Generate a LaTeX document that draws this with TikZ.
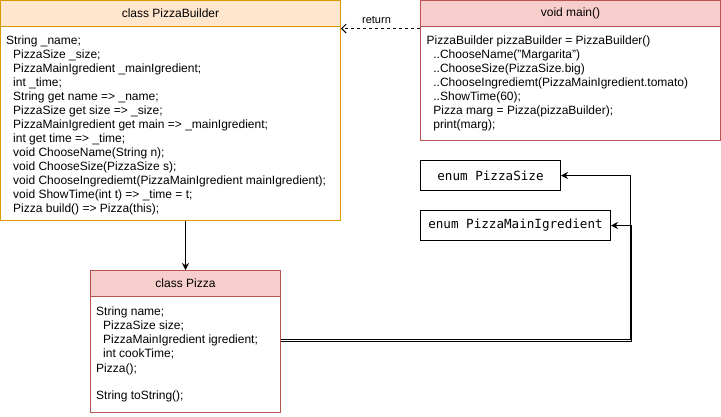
\documentclass[tikz,border=0pt]{standalone}
\usepackage{fontspec}
\setmainfont{Liberation Sans}
\newfontfamily\monof{DejaVu Sans Mono}
\usetikzlibrary{arrows.meta}
\definecolor{orfill}{HTML}{FFE6CC}
\definecolor{orline}{HTML}{D79B00}
\definecolor{rdfill}{HTML}{F8CECC}
\definecolor{rdline}{HTML}{B85450}
\begin{document}
\begin{tikzpicture}[x=1pt,y=-1pt,
  box/.style={draw, rectangle, inner sep=0pt, fill=white, line width=1pt},
  hdr/.style={draw, rectangle, inner sep=0pt, line width=1pt, anchor=north west, minimum height=26pt, font=\fontsize{12}{14}\selectfont},
  txt/.style={anchor=north west, inner sep=0pt, align=left, font=\fontsize{12}{14}\selectfont},
  line1/.style={anchor=base west, inner sep=0pt, font=\fontsize{12}{14}\selectfont},
  enumbox/.style={draw, rectangle, inner sep=0pt, fill=white, line width=1pt, font=\monof\fontsize{12.6}{14}\selectfont},
  conn/.style={line width=1pt, -{Stealth[length=7pt,width=7pt]}},
  retconn/.style={line width=1pt, dash pattern=on 3pt off 3pt, -{Straight Barb[length=4.5pt,width=9pt]}}
]
\useasboundingbox (0,0) rectangle (721,416);

% PizzaBuilder
\node[box, draw=orline, minimum width=340pt, minimum height=220pt] (pb) at (170.5,110.5) {};
\node[hdr, draw=orline, fill=orfill, minimum width=340pt] (pbh) at (pb.north west) {class PizzaBuilder};
\node[txt] (pbt) at (6,34) {\strut String \_name;\\
\hspace*{7pt}PizzaSize \_size;\\
\hspace*{7pt}PizzaMainIgredient \_mainIgredient;\\
\hspace*{7pt}int \_time;\\
\hspace*{7pt}String get name => \_name;\\
\hspace*{7pt}PizzaSize get size => \_size;\\
\hspace*{7pt}PizzaMainIgredient get main => \_mainIgredient;\\
\hspace*{7pt}int get time => \_time;\\
\hspace*{7pt}void ChooseName(String n);\\
\hspace*{7pt}void ChooseSize(PizzaSize s);\\
\hspace*{7pt}void ChooseIngrediemt(PizzaMainIgredient mainIgredient);\\
\hspace*{7pt}void ShowTime(int t) => \_time = t;\\
\hspace*{7pt}Pizza build() => Pizza(this);};

% main
\node[box, draw=rdline, minimum width=300pt, minimum height=140pt] (mn) at (570.5,70.5) {};
\node[hdr, draw=rdline, fill=rdfill, minimum width=300pt] (mnh) at (mn.north west) {void main()};
\node[txt] (mnt) at (426.5,34) {\strut PizzaBuilder pizzaBuilder = PizzaBuilder()\\
\hspace*{6.7pt}..ChooseName("Margarita")\\
\hspace*{6.7pt}..ChooseSize(PizzaSize.big)\\
\hspace*{6.7pt}..ChooseIngrediemt(PizzaMainIgredient.tomato)\\
\hspace*{6.7pt}..ShowTime(60);\\
\hspace*{6.7pt}Pizza marg = Pizza(pizzaBuilder);\\
\hspace*{6.7pt}print(marg);};

% Pizza
\node[box, draw=rdline, minimum width=190pt, minimum height=142pt] (pz) at (185.5,341.5) {};
\node[hdr, draw=rdline, fill=rdfill, minimum width=190pt] (pzh) at (pz.north west) {class Pizza};
\node[txt] (pzt) at (96,305.5) {\strut String name;\\
\hspace*{7pt}PizzaSize size;\\
\hspace*{7pt}PizzaMainIgredient igredient;\\
\hspace*{7pt}int cookTime;};
\node[line1] (pzc) at (96,372) {Pizza();};
\node[line1] (pzs) at (96,399.6) {String toString();};

% enums
\node[enumbox, minimum width=140pt, minimum height=30pt] (ps) at (490.5,175.5) {enum PizzaSize};
\node[enumbox, minimum width=190pt, minimum height=30pt] (pm) at (515.5,225.5) {enum PizzaMainIgredient};

% connectors
\draw[conn] (pb.south -| pz.north) -- (pz.north);

\coordinate (r1) at ([yshift=-28.5pt]mn.north west);
\draw[retconn] (r1) -- (pb.east |- r1);
\node[inner sep=0pt, font=\fontsize{11}{13}\selectfont] (retl) at (376.5,20) {return};

\coordinate (c1) at ([yshift=2pt]pz.east);
\draw[conn] (c1) -| ([xshift=69.5pt]ps.east) -- (ps.east);
\draw[conn] (pz.east) -| ([xshift=20pt]pm.east) -- (pm.east);
\end{tikzpicture}
\end{document}
